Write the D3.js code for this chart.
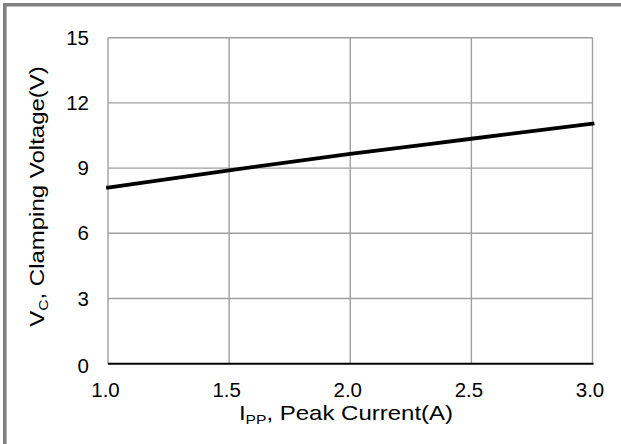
<!DOCTYPE html>
<html>
<head>
<meta charset="utf-8">
<script src="https://cdn.jsdelivr.net/npm/d3@7"></script>
<style>
  html, body { margin: 0; padding: 0; background: #fff; }
  svg { display: block; font-family: "Liberation Sans", Arial, sans-serif; }
</style>
</head>
<body>
<svg id="chart" width="621" height="444"></svg>
<script>
const currentA = [1.0, 1.5, 2.0, 2.5, 3.0];
const clampV = [8.1, 8.9, 9.65, 10.35, 11.05];
const xTicks = [1.0, 1.5, 2.0, 2.5, 3.0];
const yTicks = [0, 3, 6, 9, 12, 15];

const W = 621, H = 444;
const m = { left: 108, right: W - 592.5, top: 37.7, bottom: H - 363.7 };
const svg = d3.select("#chart");

// outer frame (top and left)
svg.append("line").attr("x1", 4.8).attr("x2", W).attr("y1", 4.8).attr("y2", 4.8)
  .attr("stroke", "#808080").attr("stroke-width", 3.6);
svg.append("line").attr("x1", 4.8).attr("x2", 4.8).attr("y1", 3).attr("y2", H)
  .attr("stroke", "#808080").attr("stroke-width", 3.6);

const x = d3.scaleLinear().domain([1, 3]).range([m.left, W - m.right]);
const y = d3.scaleLinear().domain([0, 15]).range([H - m.bottom, m.top]);

// grid
const g = svg.append("g");
g.selectAll(".vg").data(xTicks).join("line")
  .attr("x1", d => x(d)).attr("x2", d => x(d))
  .attr("y1", y(15)).attr("y2", y(0))
  .attr("stroke", "#a0a0a0").attr("stroke-width", 1.4);
g.selectAll(".hg").data(yTicks.filter(d => d > 0)).join("line")
  .attr("x1", x(1)).attr("x2", x(3))
  .attr("y1", d => y(d)).attr("y2", d => y(d))
  .attr("stroke", "#a0a0a0").attr("stroke-width", 1.4);

// x axis baseline
svg.append("line").attr("x1", x(1)).attr("x2", x(3) + 1)
  .attr("y1", y(0)).attr("y2", y(0))
  .attr("stroke", "#000").attr("stroke-width", 2);

// tick labels
svg.selectAll(".xt").data(xTicks).join("text")
  .attr("transform", d => `translate(${x(d) - 2.5},397.3) scale(1.05,1)`)
  .attr("text-anchor", "middle").attr("font-size", 19.5).attr("fill", "#000")
  .text(d => d3.format(".1f")(d));
svg.selectAll(".yt").data(yTicks).join("text")
  .attr("transform", d => `translate(89,${y(d) + (d === 0 ? 9 : 7)}) scale(1.05,1)`)
  .attr("text-anchor", "end").attr("font-size", 19.5).attr("fill", "#000")
  .text(d => d);

// data line
const line = d3.line().x((d, i) => x(currentA[i])).y(d => y(d)).curve(d3.curveMonotoneX);
svg.append("path").datum(clampV).attr("d", line)
  .attr("fill", "none").attr("stroke", "#000").attr("stroke-width", 3.8)
  .attr("stroke-linecap", "square");

// x title
const xt = svg.append("text")
  .attr("transform", `translate(346,419.5) scale(1.2,1)`)
  .attr("text-anchor", "middle").attr("font-size", 20).attr("fill", "#000");
xt.append("tspan").text("I");
xt.append("tspan").attr("font-size", 13).attr("dy", 4).text("PP");
xt.append("tspan").attr("dy", -4).text(", Peak Current(A)");

// y title
const yt = svg.append("text")
  .attr("transform", `translate(44,196.5) rotate(-90) scale(1.2,1)`)
  .attr("text-anchor", "middle").attr("font-size", 20).attr("fill", "#000");
yt.append("tspan").text("V");
yt.append("tspan").attr("font-size", 13).attr("dy", 4).text("C");
yt.append("tspan").attr("dy", -4).text(", Clamping Voltage(V)");
</script>
</body>
</html>
